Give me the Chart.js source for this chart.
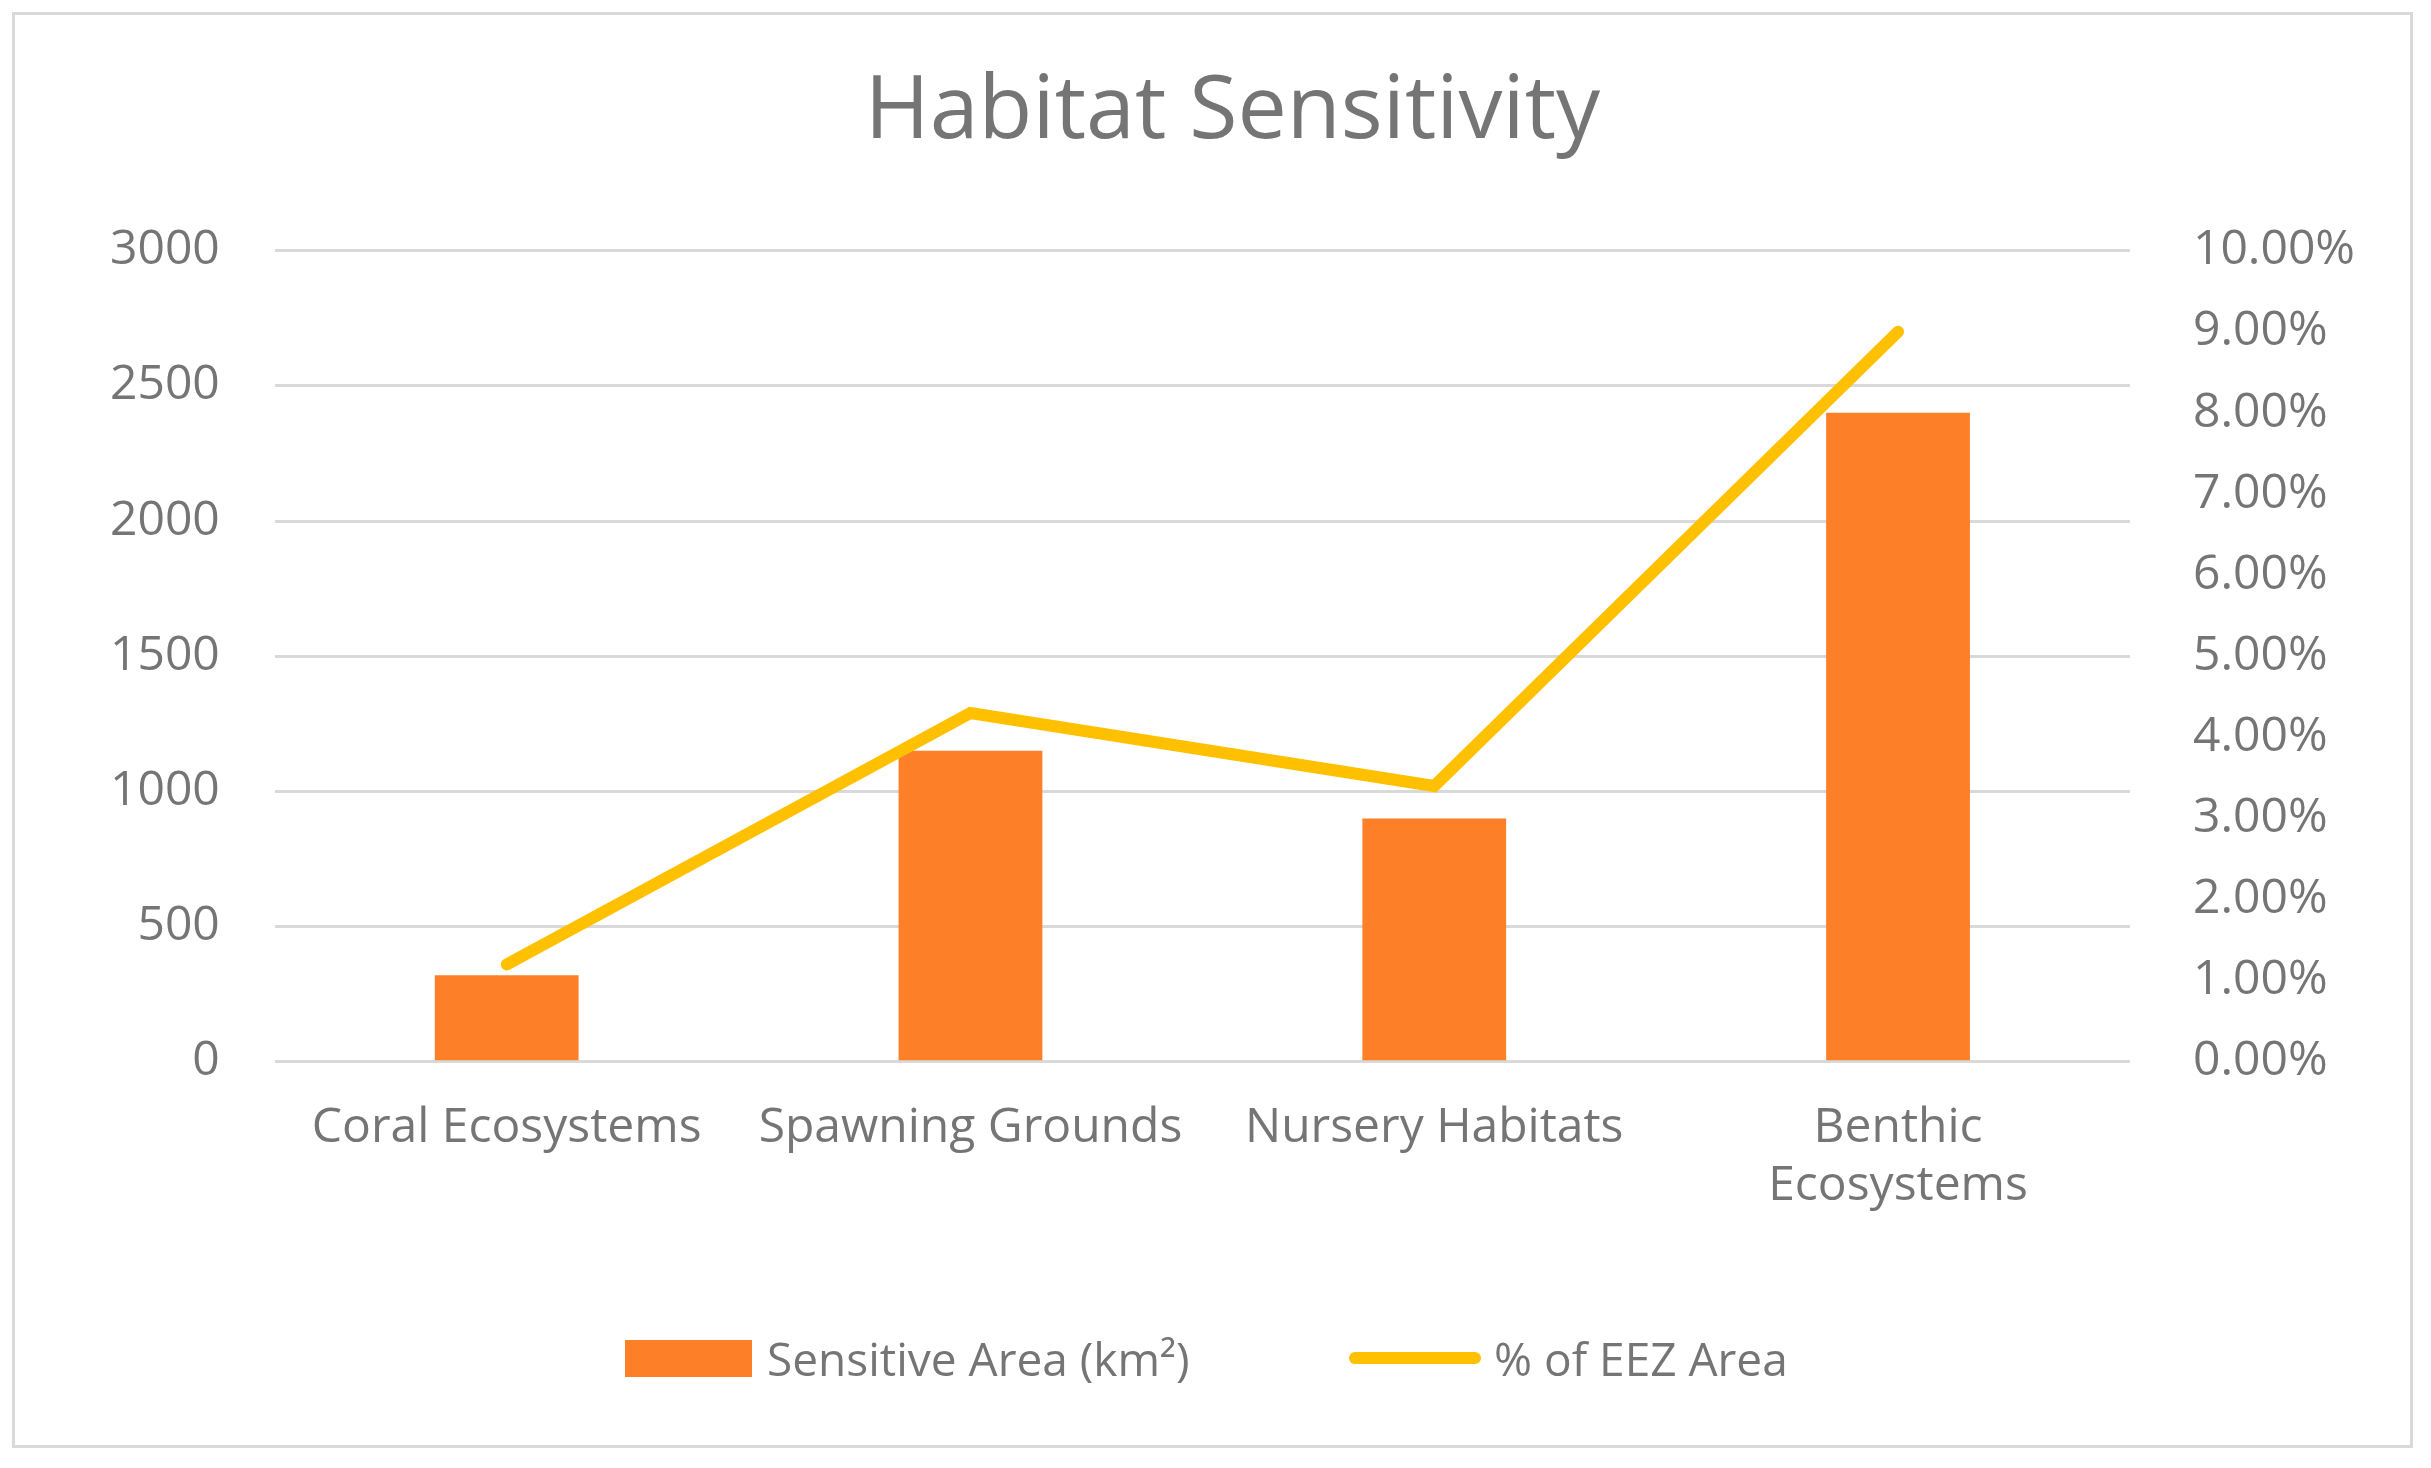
<!DOCTYPE html>
<html><head><meta charset="utf-8">
<script src="https://cdn.jsdelivr.net/npm/chart.js@4"></script>
<style>
html,body{margin:0;padding:0;background:#fff;}
#wrap{position:absolute;left:12px;top:12px;width:2401px;height:1436px;border:3px solid #d9d9d9;box-sizing:border-box;}
canvas{display:block;}
#legend{position:absolute;left:0;top:1330px;width:100%;font-family:'Open Sans',sans-serif;font-size:46px;color:#757575;}
.it{position:absolute;top:0;height:56px;line-height:56px;white-space:nowrap;}
.sw{position:absolute;}
</style></head><body>
<div id="wrap"><canvas id="c"></canvas></div>
<div id="legend"></div>
<script>
const categories = ["Coral Ecosystems","Spawning Grounds","Nursery Habitats",["Benthic","Ecosystems"]];
const areaValues = [320,1150,900,2400];
const eezPercent = [1.2,4.3,3.4,9.0];
const leftTicks = [0,500,1000,1500,2000,2500,3000];
const seriesNames = ["Sensitive Area (km²)","% of EEZ Area"];

const gray = "#757575";
Chart.defaults.font.family = "'Open Sans', sans-serif";
Chart.defaults.color = gray;

new Chart(document.getElementById('c'), {
  data: {
    labels: categories,
    datasets: [
      {type:'line', label:seriesNames[1], data:eezPercent, yAxisID:'y1',
       borderColor:'#FFC000', backgroundColor:'#FFC000', borderWidth:12,
       pointRadius:0, tension:0, borderCapStyle:'round', order:0},
      {type:'bar', label:seriesNames[0], data:areaValues, yAxisID:'y',
       backgroundColor:'#FD7F27', barPercentage:0.31, categoryPercentage:1, order:1}
    ]
  },
  options: {
    responsive:true, maintainAspectRatio:false, animation:false,
    layout:{padding:{left:40,right:0,top:40,bottom:200}},
    plugins:{
      title:{display:true,text:'Habitat Sensitivity',font:{size:88,weight:'normal'},color:gray,padding:{top:5,bottom:85}},
      legend:{display:false},
      tooltip:{enabled:false}
    },
    scales:{
      x:{grid:{display:false},border:{display:false},ticks:{font:{size:48},color:gray,maxRotation:0,padding:30}},
      y:{position:'left',min:0,max:3000,afterBuildTicks:(s)=>{s.ticks=leftTicks.map(v=>({value:v}));},
         grid:{color:'#d9d9d9',lineWidth:3,drawTicks:false},border:{display:false},
         ticks:{font:{size:48},color:gray,padding:55,callback:v=>String(v)}},
      y1:{position:'right',min:0,max:10,grid:{display:false},border:{display:false},
         ticks:{stepSize:1,font:{size:48},color:gray,padding:55,callback:v=>v.toFixed(2)+'%'}}
    }
  }
});
const lg=document.getElementById('legend');
lg.innerHTML =
 '<div class="sw" style="left:625px;top:10px;width:127px;height:37px;background:#FD7F27"></div>'+
 '<div class="it" style="left:767px">'+seriesNames[0]+'</div>'+
 '<div class="sw" style="left:1349px;top:22px;width:132px;height:12px;border-radius:6px;background:#FFC000"></div>'+
 '<div class="it" style="left:1494px">'+seriesNames[1]+'</div>';
</script>
</body></html>
